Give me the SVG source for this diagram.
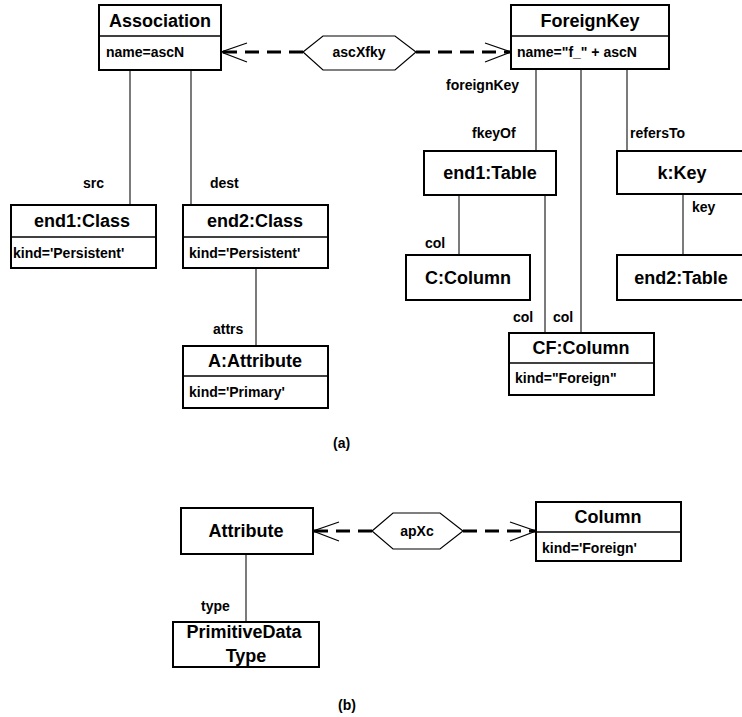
<svg xmlns="http://www.w3.org/2000/svg" width="742" height="717" viewBox="0 0 742 717">
<defs>
<style>
.box{fill:#fff;stroke:#000;stroke-width:2}
.div{stroke:#000;stroke-width:1.3}
.t{font-family:"Liberation Sans",Arial,sans-serif;font-weight:bold;font-size:18px;fill:#000;text-anchor:middle}
.a{font-family:"Liberation Sans",Arial,sans-serif;font-weight:bold;font-size:14px;fill:#000}
.lbl{font-family:"Liberation Sans",Arial,sans-serif;font-weight:bold;font-size:14px;fill:#000}
.ln{stroke:#222;stroke-width:1.2;fill:none}
.dash{stroke:#000;stroke-width:3;stroke-dasharray:14 8;fill:none}
.head{stroke:#000;stroke-width:1.2;fill:none}
.hex{fill:#fff;stroke:#000;stroke-width:1.2}
</style>
</defs>
<rect width="742" height="717" fill="#fff"/>
<g id="connectors">
<line class="ln" x1="130" y1="70" x2="130" y2="205"/>
<line class="ln" x1="191" y1="70" x2="191" y2="205"/>
<line class="ln" x1="256" y1="268" x2="256" y2="346"/>
<line class="ln" x1="536" y1="69" x2="536" y2="151"/>
<line class="ln" x1="581" y1="69" x2="581" y2="333"/>
<line class="ln" x1="627" y1="69" x2="627" y2="151"/>
<line class="ln" x1="459" y1="195" x2="459" y2="255"/>
<line class="ln" x1="545" y1="195" x2="545" y2="333"/>
<line class="ln" x1="683" y1="194" x2="683" y2="255"/>
<line class="ln" x1="246" y1="554" x2="246" y2="622"/>
<path class="dash" d="M303 52 H221"/>
<path class="head" d="M247 43 L221 52 L247 62"/>
<path class="dash" d="M416 52 H511"/>
<path class="head" d="M485 43 L511 52 L485 62"/>
<path class="dash" d="M372 531 H313"/>
<path class="head" d="M339 522 L313 531 L339 541"/>
<path class="dash" d="M463 531 H536"/>
<path class="head" d="M510 522 L536 531 L510 541"/>
<text class="lbl" x="83" y="188">src</text>
<text class="lbl" x="210" y="188">dest</text>
<text class="lbl" x="213" y="334">attrs</text>
<text class="lbl" x="446" y="90">foreignKey</text>
<text class="lbl" x="472" y="138">fkeyOf</text>
<text class="lbl" x="630" y="138">refersTo</text>
<text class="lbl" x="692" y="212">key</text>
<text class="lbl" x="425" y="248">col</text>
<text class="lbl" x="513" y="322">col</text>
<text class="lbl" x="553" y="322">col</text>
<text class="lbl" x="201" y="611">type</text>
</g>
<g id="ascXfky">
<polygon class="hex" points="303,52 323,36 395,36 416,52 395,70 323,70"/>
<text class="lbl" x="359" y="57" text-anchor="middle">ascXfky</text>
</g>
<g id="apXc">
<polygon class="hex" points="372,531 393,513 440,513 463,531 440,549 393,549"/>
<text class="lbl" x="417" y="536" text-anchor="middle">apXc</text>
</g>
<g id="Association">
<rect class="box" x="99" y="5" width="122" height="65"/>
<line class="div" x1="99" y1="36" x2="221" y2="36"/>
<text class="t" x="160" y="27">Association</text>
<text class="a" x="106" y="57">name=ascN</text>
</g>
<g id="ForeignKey">
<rect class="box" x="511" y="5" width="158" height="64"/>
<line class="div" x1="511" y1="36" x2="669" y2="36"/>
<text class="t" x="590" y="27">ForeignKey</text>
<text class="a" x="517" y="57">name="f_" + ascN</text>
</g>
<g id="end1Class">
<rect class="box" x="11" y="205" width="145" height="63"/>
<line class="div" x1="11" y1="237" x2="156" y2="237"/>
<text class="t" x="82" y="227">end1:Class</text>
<text class="a" x="13" y="258">kind='Persistent'</text>
</g>
<g id="end2Class">
<rect class="box" x="183" y="205" width="145" height="63"/>
<line class="div" x1="183" y1="237" x2="328" y2="237"/>
<text class="t" x="255" y="227">end2:Class</text>
<text class="a" x="189" y="258">kind='Persistent'</text>
</g>
<g id="AAttribute">
<rect class="box" x="183" y="346" width="145" height="62"/>
<line class="div" x1="183" y1="376" x2="328" y2="376"/>
<text class="t" x="255" y="367">A:Attribute</text>
<text class="a" x="189" y="397">kind='Primary'</text>
</g>
<g id="end1Table">
<rect class="box" x="424" y="151" width="132" height="44"/>
<text class="t" x="490" y="179">end1:Table</text>
</g>
<g id="kKey">
<rect class="box" x="617" y="151" width="140" height="43"/>
<text class="t" x="682" y="179">k:Key</text>
</g>
<g id="CColumn">
<rect class="box" x="406" y="255" width="124" height="45"/>
<text class="t" x="468" y="284">C:Column</text>
</g>
<g id="end2Table">
<rect class="box" x="617" y="255" width="140" height="45"/>
<text class="t" x="681" y="284">end2:Table</text>
</g>
<g id="CFColumn">
<rect class="box" x="509" y="333" width="145" height="62"/>
<line class="div" x1="509" y1="363" x2="654" y2="363"/>
<text class="t" x="581" y="354">CF:Column</text>
<text class="a" x="515" y="383">kind="Foreign"</text>
</g>
<g id="Attribute">
<rect class="box" x="181" y="508" width="132" height="46"/>
<text class="t" x="246" y="537">Attribute</text>
</g>
<g id="Column">
<rect class="box" x="536" y="502" width="145" height="59"/>
<line class="div" x1="536" y1="532" x2="681" y2="532"/>
<text class="t" x="608" y="523">Column</text>
<text class="a" x="542" y="553">kind='Foreign'</text>
</g>
<g id="PrimitiveDataType">
<rect class="box" x="173" y="622" width="146" height="45"/>
<text class="t" x="244" y="638">PrimitiveData</text>
<text class="t" x="246" y="662">Type</text>
</g>
<text class="lbl" x="333" y="448">(a)</text>
<text class="lbl" x="338" y="710">(b)</text>
</svg>
